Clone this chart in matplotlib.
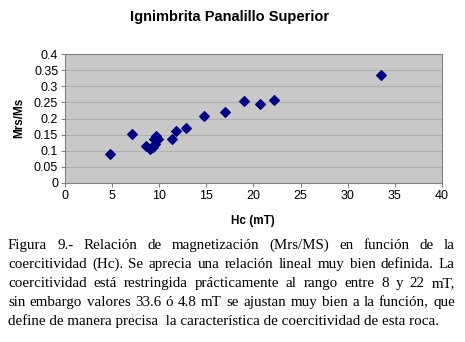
import numpy as np
import matplotlib.pyplot as plt

# data
hc = [4.8, 7.1, 8.6, 9.0, 9.3, 9.55, 9.45, 9.65, 9.9, 11.4, 11.8, 12.85, 14.7, 17.0, 19.0, 20.7, 22.2, 33.6]
mrs_ms = [0.088, 0.153, 0.113, 0.105, 0.112, 0.120, 0.137, 0.146, 0.136, 0.136, 0.161, 0.171, 0.208, 0.220, 0.254, 0.244, 0.259, 0.336]

caption = [
    "Figura 9.- Relación de magnetización (Mrs/MS) en función de la",
    "coercitividad (Hc). Se aprecia una relación lineal muy bien definida. La",
    "coercitividad está restringida prácticamente al rango entre 8 y 22 mT,",
    "sin embargo valores 33.6 ó 4.8 mT se ajustan muy bien a la función, que",
    "define de manera precisa  la característica de coercitividad de esta roca.",
]

fig = plt.figure(figsize=(4.65, 3.42), dpi=100)
ax = fig.add_axes([0.14, 0.466, 0.81, 0.375])
ax.set_facecolor("#c8c8c8")
ax.scatter(hc, mrs_ms, marker="D", s=24, color="#000080", zorder=3)

ax.set_xlim(0, 40)
ax.set_ylim(0, 0.4)
ax.set_xticks(np.arange(0, 41, 5))
ax.set_yticks(np.arange(0, 0.41, 0.05))
ax.set_yticklabels(["0", "0.05", "0.1", "0.15", "0.2", "0.25", "0.3", "0.35", "0.4"])
ax.yaxis.grid(True, color="#b0b0b0", linewidth=0.8)
ax.set_axisbelow(True)
for s in ax.spines.values():
    s.set_color("#808080")
ax.tick_params(labelsize=9, length=3, color="#808080", pad=2)
for lab in ax.get_xticklabels() + ax.get_yticklabels():
    lab.set_family("Liberation Sans")

fig.text(230 / 465, 1 - 17 / 342, "Ignimbrita Panalillo Superior", fontsize=10.5,
         fontweight="bold", family="Liberation Sans", ha="center", va="center")
fig.text(253 / 465, 1 - 221 / 342, "Hc (mT)", fontsize=8.5, fontweight="bold",
         family="Liberation Sans", ha="center", va="center")
fig.text(19 / 465, 1 - 118 / 342, "Mrs/Ms", fontsize=8.5, fontweight="bold",
         family="Liberation Sans", ha="center", va="center", rotation=90)

# justified caption, words placed on a common baseline
renderer = fig.canvas.get_renderer()
x0, x1 = 8, 455
ys = [249, 268, 287, 306, 325]
fs = 10.8
for i, line in enumerate(caption):
    yf = 1 - ys[i] / 342
    if i == len(caption) - 1:
        fig.text(x0 / 465, yf, line, family="Liberation Serif", fontsize=fs, va="baseline")
        continue
    words = line.split()
    widths = []
    for w in words:
        t = fig.text(0, 0, w, family="Liberation Serif", fontsize=fs)
        widths.append(t.get_window_extent(renderer).width)
        t.remove()
    gap = (x1 - x0 - sum(widths)) / (len(words) - 1)
    x = x0
    for w, wd in zip(words, widths):
        fig.text(x / 465, yf, w, family="Liberation Serif", fontsize=fs, va="baseline")
        x += wd + gap

fig.savefig("out.png", dpi=100)
